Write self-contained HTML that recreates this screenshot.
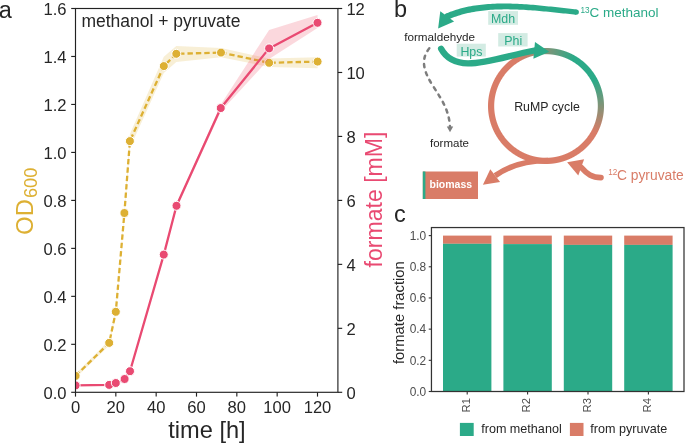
<!DOCTYPE html>
<html><head><meta charset="utf-8"><title>figure</title>
<style>
html,body{margin:0;padding:0;background:#fff;}
body{width:685px;height:443px;position:relative;overflow:hidden;font-family:"Liberation Sans", sans-serif;}
</style></head><body>
<svg width="685" height="443" viewBox="0 0 685 443" style="position:absolute;left:0;top:0;will-change:transform">
<defs><clipPath id="clipA"><rect x="75.5" y="8.5" width="262.4" height="383.8"/></clipPath></defs>
<g font-family='"Liberation Sans", sans-serif'>
<g clip-path="url(#clipA)">
<path d="M75.6,373.7 L109.2,340.3 L115.8,309.3 L124.4,210.0 L129.9,134.1 L163.8,56.8 L176.3,45.9 L221.0,48.0 L269.1,58.6 L317.6,57.3 L317.6,68.3 L269.1,67.0 L221.0,57.3 L176.3,62.0 L163.8,73.1 L129.9,148.1 L124.4,216.0 L115.8,314.3 L109.2,345.5 L75.6,378.1 Z" fill="#DDB033" fill-opacity="0.2"/>
<polyline points="75.6,375.9 109.2,342.9 115.8,311.8 124.4,213.0 129.9,141.1 163.8,66.1 176.3,53.8 221.0,52.6 269.1,62.8 317.6,61.6" fill="none" stroke="#DDB033" stroke-width="2.3" stroke-dasharray="5.4 3.0" stroke-linejoin="round"/>
<circle cx="75.6" cy="375.9" r="4.5" fill="#DDB033" stroke="#fff" stroke-width="1"/>
<circle cx="109.2" cy="342.9" r="4.5" fill="#DDB033" stroke="#fff" stroke-width="1"/>
<circle cx="115.8" cy="311.8" r="4.5" fill="#DDB033" stroke="#fff" stroke-width="1"/>
<circle cx="124.4" cy="213.0" r="4.5" fill="#DDB033" stroke="#fff" stroke-width="1"/>
<circle cx="129.9" cy="141.1" r="4.5" fill="#DDB033" stroke="#fff" stroke-width="1"/>
<circle cx="163.8" cy="66.1" r="4.5" fill="#DDB033" stroke="#fff" stroke-width="1"/>
<circle cx="176.3" cy="53.8" r="4.5" fill="#DDB033" stroke="#fff" stroke-width="1"/>
<circle cx="221.0" cy="52.6" r="4.5" fill="#DDB033" stroke="#fff" stroke-width="1"/>
<circle cx="269.1" cy="62.8" r="4.5" fill="#DDB033" stroke="#fff" stroke-width="1"/>
<circle cx="317.6" cy="61.6" r="4.5" fill="#DDB033" stroke="#fff" stroke-width="1"/>
<path d="M75.6,384.9 L109.2,384.4 L115.8,382.4 L124.6,378.2 L130.0,370.0 L163.8,253.1 L176.5,204.3 L220.8,104.5 L269.1,30.1 L317.5,14.9 L317.5,28.0 L269.1,59.0 L220.8,111.5 L176.5,208.8 L163.8,256.1 L130.0,372.4 L124.6,379.8 L115.8,383.6 L109.2,385.4 L75.6,385.9 Z" fill="#EC4E62" fill-opacity="0.22"/>
<polyline points="75.6,385.4 109.2,384.9 115.8,383.0 124.6,379.0 130.0,371.2 163.8,254.6 176.5,205.8 220.8,108.0 269.1,48.4 317.5,22.8" fill="none" stroke="#E94A72" stroke-width="2.3" stroke-linejoin="round"/>
<circle cx="75.6" cy="385.4" r="4.5" fill="#E94A72" stroke="#fff" stroke-width="1"/>
<circle cx="109.2" cy="384.9" r="4.5" fill="#E94A72" stroke="#fff" stroke-width="1"/>
<circle cx="115.8" cy="383.0" r="4.5" fill="#E94A72" stroke="#fff" stroke-width="1"/>
<circle cx="124.6" cy="379.0" r="4.5" fill="#E94A72" stroke="#fff" stroke-width="1"/>
<circle cx="130.0" cy="371.2" r="4.5" fill="#E94A72" stroke="#fff" stroke-width="1"/>
<circle cx="163.75" cy="254.6" r="4.5" fill="#E94A72" stroke="#fff" stroke-width="1"/>
<circle cx="176.5" cy="205.8" r="4.5" fill="#E94A72" stroke="#fff" stroke-width="1"/>
<circle cx="220.75" cy="108.05" r="4.5" fill="#E94A72" stroke="#fff" stroke-width="1"/>
<circle cx="269.1" cy="48.4" r="4.5" fill="#E94A72" stroke="#fff" stroke-width="1"/>
<circle cx="317.5" cy="22.8" r="4.5" fill="#E94A72" stroke="#fff" stroke-width="1"/>
</g>
<rect x="75.5" y="8.5" width="262.4" height="383.8" fill="none" stroke="#222222" stroke-width="1.15"/>
<line x1="71.2" y1="392.30" x2="75.5" y2="392.30" stroke="#222222" stroke-width="1.15"/>
<text x="66.6" y="398.60" font-size="16.6" fill="#262626" text-anchor="end">0.0</text>
<line x1="71.2" y1="344.32" x2="75.5" y2="344.32" stroke="#222222" stroke-width="1.15"/>
<text x="66.6" y="350.62" font-size="16.6" fill="#262626" text-anchor="end">0.2</text>
<line x1="71.2" y1="296.35" x2="75.5" y2="296.35" stroke="#222222" stroke-width="1.15"/>
<text x="66.6" y="302.65" font-size="16.6" fill="#262626" text-anchor="end">0.4</text>
<line x1="71.2" y1="248.38" x2="75.5" y2="248.38" stroke="#222222" stroke-width="1.15"/>
<text x="66.6" y="254.68" font-size="16.6" fill="#262626" text-anchor="end">0.6</text>
<line x1="71.2" y1="200.40" x2="75.5" y2="200.40" stroke="#222222" stroke-width="1.15"/>
<text x="66.6" y="206.70" font-size="16.6" fill="#262626" text-anchor="end">0.8</text>
<line x1="71.2" y1="152.43" x2="75.5" y2="152.43" stroke="#222222" stroke-width="1.15"/>
<text x="66.6" y="158.73" font-size="16.6" fill="#262626" text-anchor="end">1.0</text>
<line x1="71.2" y1="104.45" x2="75.5" y2="104.45" stroke="#222222" stroke-width="1.15"/>
<text x="66.6" y="110.75" font-size="16.6" fill="#262626" text-anchor="end">1.2</text>
<line x1="71.2" y1="56.47" x2="75.5" y2="56.47" stroke="#222222" stroke-width="1.15"/>
<text x="66.6" y="62.77" font-size="16.6" fill="#262626" text-anchor="end">1.4</text>
<line x1="71.2" y1="8.50" x2="75.5" y2="8.50" stroke="#222222" stroke-width="1.15"/>
<text x="66.6" y="14.80" font-size="16.6" fill="#262626" text-anchor="end">1.6</text>
<line x1="337.9" y1="392.30" x2="342.2" y2="392.30" stroke="#222222" stroke-width="1.15"/>
<text x="346.4" y="398.70" font-size="16.6" fill="#262626">0</text>
<line x1="337.9" y1="328.33" x2="342.2" y2="328.33" stroke="#222222" stroke-width="1.15"/>
<text x="346.4" y="334.73" font-size="16.6" fill="#262626">2</text>
<line x1="337.9" y1="264.37" x2="342.2" y2="264.37" stroke="#222222" stroke-width="1.15"/>
<text x="346.4" y="270.77" font-size="16.6" fill="#262626">4</text>
<line x1="337.9" y1="200.40" x2="342.2" y2="200.40" stroke="#222222" stroke-width="1.15"/>
<text x="346.4" y="206.80" font-size="16.6" fill="#262626">6</text>
<line x1="337.9" y1="136.43" x2="342.2" y2="136.43" stroke="#222222" stroke-width="1.15"/>
<text x="346.4" y="142.83" font-size="16.6" fill="#262626">8</text>
<line x1="337.9" y1="72.47" x2="342.2" y2="72.47" stroke="#222222" stroke-width="1.15"/>
<text x="346.4" y="78.87" font-size="16.6" fill="#262626">10</text>
<line x1="337.9" y1="8.50" x2="342.2" y2="8.50" stroke="#222222" stroke-width="1.15"/>
<text x="346.4" y="14.90" font-size="16.6" fill="#262626">12</text>
<line x1="75.50" y1="392.3" x2="75.50" y2="396.6" stroke="#222222" stroke-width="1.15"/>
<text x="75.50" y="412.7" font-size="16.6" fill="#262626" text-anchor="middle">0</text>
<line x1="115.83" y1="392.3" x2="115.83" y2="396.6" stroke="#222222" stroke-width="1.15"/>
<text x="115.83" y="412.7" font-size="16.6" fill="#262626" text-anchor="middle">20</text>
<line x1="156.17" y1="392.3" x2="156.17" y2="396.6" stroke="#222222" stroke-width="1.15"/>
<text x="156.17" y="412.7" font-size="16.6" fill="#262626" text-anchor="middle">40</text>
<line x1="196.50" y1="392.3" x2="196.50" y2="396.6" stroke="#222222" stroke-width="1.15"/>
<text x="196.50" y="412.7" font-size="16.6" fill="#262626" text-anchor="middle">60</text>
<line x1="236.83" y1="392.3" x2="236.83" y2="396.6" stroke="#222222" stroke-width="1.15"/>
<text x="236.83" y="412.7" font-size="16.6" fill="#262626" text-anchor="middle">80</text>
<line x1="277.17" y1="392.3" x2="277.17" y2="396.6" stroke="#222222" stroke-width="1.15"/>
<text x="277.17" y="412.7" font-size="16.6" fill="#262626" text-anchor="middle">100</text>
<line x1="317.50" y1="392.3" x2="317.50" y2="396.6" stroke="#222222" stroke-width="1.15"/>
<text x="317.50" y="412.7" font-size="16.6" fill="#262626" text-anchor="middle">120</text>
<text x="81.4" y="26.9" font-size="17.5" fill="#262626">methanol + pyruvate</text>
<text x="207" y="437.6" font-size="23.6" fill="#262626" text-anchor="middle">time [h]</text>
<text transform="translate(32.8,201.2) rotate(-90)" font-size="23.6" fill="#DDB033" text-anchor="middle">OD<tspan font-size="18.2" dx="1.2" dy="4">600</tspan></text>
<text transform="translate(381.7,199.5) rotate(-90)" font-size="23.1" fill="#E94A72" text-anchor="middle">formate [mM]</text>
<text x="-1.2" y="17.7" font-size="23.5" fill="#262626">a</text>
<text x="394.0" y="16.8" font-size="23.5" fill="#262626">b</text>
<foreignObject x="487.30" y="47.40" width="118.00" height="118.00"><div style="width:118.00px;height:118.00px;border-radius:50%;background:conic-gradient(from -30deg, #D97C67 0deg, #2BAA88 60deg, #2BAA88 92deg, #D97C67 148deg, #D97C67 360deg);-webkit-mask:radial-gradient(circle at center, transparent 51.30px, #000 52.30px, #000 57.50px, transparent 58.50px);mask:radial-gradient(circle at center, transparent 51.30px, #000 52.30px, #000 57.50px, transparent 58.50px);"></div></foreignObject>
<text x="547" y="110.7" font-size="12.35" fill="#262626" text-anchor="middle">RuMP cycle</text>
<path d="M576.57,9.51 L574.50,9.29 L572.42,9.05 L570.33,8.82 L568.22,8.58 L566.10,8.33 L563.96,8.09 L561.82,7.84 L559.66,7.59 L557.49,7.35 L555.31,7.10 L553.12,6.86 L550.93,6.62 L548.72,6.38 L546.51,6.14 L544.29,5.91 L542.07,5.69 L539.83,5.47 L537.60,5.26 L535.35,5.06 L533.11,4.87 L530.86,4.68 L528.60,4.51 L526.35,4.35 L524.09,4.20 L521.83,4.06 L519.57,3.94 L517.31,3.83 L515.05,3.73 L512.79,3.65 L510.53,3.59 L508.28,3.54 L506.02,3.52 L503.77,3.51 L501.52,3.52 L499.28,3.55 L497.04,3.60 L494.81,3.68 L492.59,3.78 L490.36,3.90 L488.15,4.05 L485.95,4.22 L483.75,4.42 L481.56,4.65 L479.38,4.90 L477.21,5.19 L475.05,5.50 L472.90,5.84 L470.76,6.22 L468.64,6.62 L466.52,7.06 L464.42,7.54 L462.34,8.04 L460.27,8.59 L458.21,9.17 L456.17,9.79 L454.14,10.44 L452.13,11.14 L450.14,11.87 L448.17,12.65 L446.22,13.47 L448.78,19.33 L450.60,18.55 L452.44,17.81 L454.30,17.10 L456.18,16.43 L458.08,15.79 L460.00,15.19 L461.94,14.62 L463.90,14.09 L465.87,13.58 L467.86,13.12 L469.87,12.68 L471.90,12.27 L473.94,11.89 L476.00,11.54 L478.07,11.22 L480.15,10.93 L482.25,10.67 L484.36,10.43 L486.48,10.22 L488.61,10.03 L490.75,9.87 L492.91,9.73 L495.07,9.62 L497.24,9.52 L499.42,9.45 L501.61,9.40 L503.80,9.37 L506.00,9.36 L508.21,9.36 L510.42,9.39 L512.63,9.43 L514.85,9.49 L517.07,9.56 L519.30,9.65 L521.52,9.75 L523.75,9.87 L525.98,10.00 L528.21,10.14 L530.44,10.29 L532.66,10.45 L534.89,10.62 L537.11,10.80 L539.33,10.99 L541.55,11.19 L543.76,11.39 L545.97,11.60 L548.17,11.81 L550.36,12.03 L552.55,12.25 L554.73,12.47 L556.91,12.70 L559.07,12.92 L561.23,13.15 L563.38,13.38 L565.52,13.60 L567.64,13.83 L569.76,14.05 L571.86,14.26 L573.95,14.48 L576.03,14.69 Z" fill="#2BAA88"/>
<circle cx="576.3" cy="12.1" r="2.60" fill="#2BAA88"/>
<circle cx="447.5" cy="16.4" r="3.20" fill="#2BAA88"/>
<polygon points="438.1,28.5 440.3,11.2 454.1,21.5" fill="#2BAA88"/>
<path d="M441.1,48.8 C446,57.8 455,63.2 468,63.4 C488,63.5 510,55 534.5,50.5" fill="none" stroke="#2BAA88" stroke-width="6.3" stroke-linecap="round"/>
<polygon points="549.3,51.7 535,42.1 533.4,58.8" fill="#2BAA88"/>
<rect x="488.2" y="11.1" width="29.8" height="13.7" fill="#D3EBE3"/>
<text x="503.1" y="22.9" font-size="12.4" fill="#2BAA88" text-anchor="middle">Mdh</text>
<rect x="498.2" y="33.1" width="29.4" height="13.4" fill="#D3EBE3"/>
<text x="513.2" y="44.8" font-size="12.4" fill="#2BAA88" text-anchor="middle">Phi</text>
<rect x="456.7" y="43.7" width="29.1" height="12.9" fill="#D3EBE3"/>
<text x="471.4" y="55.6" font-size="12.4" fill="#2BAA88" text-anchor="middle">Hps</text>
<text x="404.2" y="40.6" font-size="11.7" fill="#262626">formaldehyde</text>
<path d="M429.3,48.3 C420,60 424,72 433,86 C442,100 449,110 450,127" fill="none" stroke="#7d7d7d" stroke-width="2.5" stroke-dasharray="3.2 5.3" stroke-linecap="round"/>
<polygon points="446.8,126.5 453.2,126.5 450,132.3" fill="#7d7d7d"/>
<text x="449.5" y="146.8" font-size="11.5" fill="#262626" text-anchor="middle">formate</text>
<text x="580.4" y="13.0" font-size="8.2" fill="#2BAA88">13</text>
<text x="589.5" y="16.8" font-size="13.5" fill="#2BAA88">C methanol</text>
<text x="608.3" y="175.1" font-size="8.2" fill="#D97C67">12</text>
<text x="617" y="180.2" font-size="13.8" fill="#D97C67">C pyruvate</text>
<path d="M548,160.5 C526,160.5 509,166 495.2,175.6" fill="none" stroke="#D97C67" stroke-width="5.6"/>
<polygon points="482.9,184.7 490.3,169.2 500.1,182" fill="#D97C67"/>
<path d="M601,177.6 C592,177.6 587,174 581.2,167.4" fill="none" stroke="#D97C67" stroke-width="5.6" stroke-linecap="round"/>
<polygon points="567.1,162.2 584.1,159.3 578.3,175.4" fill="#D97C67"/>
<rect x="422.8" y="171.5" width="55.2" height="27.5" fill="#D97C67"/>
<rect x="422.8" y="171.5" width="2.6" height="27.5" fill="#2BAA88"/>
<text x="450.8" y="188.2" font-size="10.5" font-weight="bold" fill="#fff" text-anchor="middle">biomass</text>
<text x="394.0" y="221.9" font-size="23.5" fill="#262626">c</text>
<rect x="443.00" y="235.60" width="48.4" height="8.20" fill="#D97C67"/>
<rect x="443.00" y="243.80" width="48.4" height="147.70" fill="#2BAA88"/>
<line x1="467.20" y1="391.5" x2="467.20" y2="394.6" stroke="#333" stroke-width="1.1"/>
<text transform="translate(469.70,398.0) rotate(-90)" font-size="11.3" fill="#4D4D4D" text-anchor="end">R1</text>
<rect x="503.40" y="235.60" width="48.4" height="8.50" fill="#D97C67"/>
<rect x="503.40" y="244.10" width="48.4" height="147.40" fill="#2BAA88"/>
<line x1="527.60" y1="391.5" x2="527.60" y2="394.6" stroke="#333" stroke-width="1.1"/>
<text transform="translate(530.10,398.0) rotate(-90)" font-size="11.3" fill="#4D4D4D" text-anchor="end">R2</text>
<rect x="563.80" y="235.60" width="48.4" height="9.30" fill="#D97C67"/>
<rect x="563.80" y="244.90" width="48.4" height="146.60" fill="#2BAA88"/>
<line x1="588.00" y1="391.5" x2="588.00" y2="394.6" stroke="#333" stroke-width="1.1"/>
<text transform="translate(590.50,398.0) rotate(-90)" font-size="11.3" fill="#4D4D4D" text-anchor="end">R3</text>
<rect x="624.20" y="235.60" width="48.4" height="9.30" fill="#D97C67"/>
<rect x="624.20" y="244.90" width="48.4" height="146.60" fill="#2BAA88"/>
<line x1="648.40" y1="391.5" x2="648.40" y2="394.6" stroke="#333" stroke-width="1.1"/>
<text transform="translate(650.90,398.0) rotate(-90)" font-size="11.3" fill="#4D4D4D" text-anchor="end">R4</text>
<rect x="431.45" y="227.55" width="252.55" height="163.95" fill="none" stroke="#333" stroke-width="1.25"/>
<line x1="428.75" y1="391.50" x2="431.45" y2="391.50" stroke="#333" stroke-width="1.1"/>
<text x="426.2" y="395.70" font-size="11.9" fill="#4D4D4D" text-anchor="end">0.0</text>
<line x1="428.75" y1="360.32" x2="431.45" y2="360.32" stroke="#333" stroke-width="1.1"/>
<text x="426.2" y="364.52" font-size="11.9" fill="#4D4D4D" text-anchor="end">0.2</text>
<line x1="428.75" y1="329.14" x2="431.45" y2="329.14" stroke="#333" stroke-width="1.1"/>
<text x="426.2" y="333.34" font-size="11.9" fill="#4D4D4D" text-anchor="end">0.4</text>
<line x1="428.75" y1="297.96" x2="431.45" y2="297.96" stroke="#333" stroke-width="1.1"/>
<text x="426.2" y="302.16" font-size="11.9" fill="#4D4D4D" text-anchor="end">0.6</text>
<line x1="428.75" y1="266.78" x2="431.45" y2="266.78" stroke="#333" stroke-width="1.1"/>
<text x="426.2" y="270.98" font-size="11.9" fill="#4D4D4D" text-anchor="end">0.8</text>
<line x1="428.75" y1="235.60" x2="431.45" y2="235.60" stroke="#333" stroke-width="1.1"/>
<text x="426.2" y="239.80" font-size="11.9" fill="#4D4D4D" text-anchor="end">1.0</text>
<text transform="translate(404.2,312.6) rotate(-90)" font-size="14.8" fill="#262626" text-anchor="middle">formate fraction</text>
<rect x="459.9" y="422.9" width="13.8" height="13.1" fill="#2BAA88"/>
<text x="481.2" y="432.9" font-size="12.6" fill="#262626">from methanol</text>
<rect x="569.9" y="422.9" width="13.6" height="13.1" fill="#D97C67"/>
<text x="590.3" y="432.9" font-size="12.6" fill="#262626">from pyruvate</text>
</g>
</svg>
</body></html>
